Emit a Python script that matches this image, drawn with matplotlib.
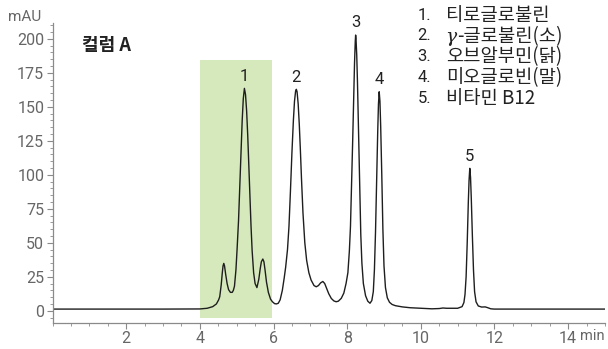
import matplotlib.pyplot as plt
from matplotlib.ticker import MultipleLocator, FixedLocator

# chromatogram trace (retention time in min, absorbance in mAU)
time_min = [
    0.0, 3.0, 4.0, 4.2, 4.35, 4.45, 4.51, 4.54, 4.58, 4.61, 4.63, 4.65,
    4.67, 4.70, 4.74, 4.78, 4.83, 4.88, 4.91, 4.94, 4.98, 5.01, 5.05, 5.09,
    5.12, 5.15, 5.18, 5.21, 5.24, 5.27, 5.30, 5.33, 5.36, 5.39, 5.42, 5.46,
    5.50, 5.55, 5.60, 5.64, 5.67, 5.71, 5.74, 5.77, 5.81, 5.86, 5.92, 5.97,
    6.03, 6.08, 6.13, 6.18, 6.24, 6.29, 6.33, 6.38, 6.42, 6.46, 6.50, 6.54,
    6.57, 6.60, 6.62, 6.64, 6.67, 6.70, 6.73, 6.76, 6.80, 6.85, 6.90, 6.96,
    7.02, 7.10, 7.16, 7.22, 7.28, 7.34, 7.39, 7.44, 7.50, 7.57, 7.64, 7.70,
    7.76, 7.84, 7.91, 7.97, 8.02, 8.06, 8.09, 8.12, 8.15, 8.18, 8.20, 8.22,
    8.23, 8.24, 8.26, 8.28, 8.31, 8.34, 8.37, 8.40, 8.44, 8.50, 8.56, 8.62,
    8.67, 8.71, 8.74, 8.77, 8.80, 8.83, 8.85, 8.87, 8.89, 8.91, 8.94, 8.97,
    9.00, 9.04, 9.09, 9.15, 9.22, 9.31, 9.50, 9.71, 10.0, 10.3, 10.5, 10.6,
    10.7, 11.0, 11.12, 11.17, 11.20, 11.23, 11.26, 11.29, 11.31, 11.33,
    11.35, 11.37, 11.40, 11.43, 11.46, 11.50, 11.56, 11.65, 11.75, 11.82,
    11.90, 12.0, 15.0,
]
absorbance = [
    1.2, 1.2, 1.3, 1.8, 3.0, 5.0, 8.0, 10.3, 19, 28, 33, 34.8,
    33, 27, 20, 15.5, 13.5, 13.5, 15, 18, 30, 44.6, 66, 95,
    118, 140, 156, 163.5, 159, 147, 129, 107, 84, 62, 44, 28,
    20, 17, 23, 31, 36, 38, 36, 30, 21, 13.5, 8.5, 6.6,
    5.2, 5.0, 5.5, 8, 15, 24, 32, 45, 62, 88, 116, 140,
    154, 161.5, 162.8, 161, 152, 137, 118, 97, 72, 50, 37, 28,
    22.6, 18.5, 17.6, 18.5, 20.5, 21.5, 20, 16.5, 12.5, 9, 7.2, 6.6,
    7, 9.1, 13, 20, 28, 44, 62, 92, 125, 160, 182, 198,
    202.7, 200, 188, 168, 130, 90, 56, 35, 20, 11, 7, 5.5,
    7.5, 14, 30, 58, 95, 132, 152, 161, 154, 136, 100, 60,
    33, 17, 9.5, 6.2, 4.6, 3.7, 2.8, 2.2, 1.8, 1.4, 1.6, 2.0,
    1.8, 1.8, 3, 6, 12, 25, 50, 80, 96, 104.7,
    98, 83, 55, 30, 14, 6.5, 3.5, 2.7, 2.8, 2.2,
    1.4, 1.2, 1.2,
]

peak_ids = ['1', '2', '3', '4', '5']
peak_times = [5.21, 6.62, 8.23, 8.87, 11.33]
peak_heights = [163.5, 162.8, 202.7, 161, 104.7]

legend_nums = ['1.', '2.', '3.', '4.', '5.']
legend_names = ['티로글로불린', '-글로불린(소)', '오브알부민(닭)', '미오글로빈(말)', '비타민 B12']

fraction_window = (4.0, 5.95)

latin = ['Roboto', 'Noto Sans CJK KR', 'DejaVu Sans']
korean = ['Noto Sans CJK KR', 'DejaVu Sans']
gray = '#666666'
ink = '#222222'

fig = plt.figure(figsize=(6.08, 3.49), dpi=100)
ax = fig.add_axes([0.0864, 0.0754, 0.9086, 0.8596])

ax.axvspan(fraction_window[0], fraction_window[1], ymin=0.017, ymax=0.876,
           color='#d6e9bd', lw=0, zorder=0)
ax.plot(time_min, absorbance, color='#1e1e1e', lw=1.0, zorder=2)

for pid, t, h in zip(peak_ids, peak_times, peak_heights):
    ax.text(t, h + 9, pid, ha='center', va='center', fontsize=12,
            family=latin, color=ink)

ax.set_xlim(0, 15)
ax.set_ylim(-8.8, 211.8)
ax.xaxis.set_major_locator(FixedLocator([2, 4, 6, 8, 10, 12, 14]))
ax.xaxis.set_minor_locator(MultipleLocator(0.5))
ax.yaxis.set_major_locator(MultipleLocator(25))
ax.yaxis.set_minor_locator(MultipleLocator(5))

for side in ['top', 'right']:
    ax.spines[side].set_visible(False)
for side in ['left', 'bottom']:
    ax.spines[side].set_color('#8a8a8a')
    ax.spines[side].set_linewidth(0.9)

ax.tick_params(which='major', length=4, width=0.8, color='#8a8a8a',
               labelsize=11.5, labelcolor=gray, pad=2)
ax.tick_params(which='minor', length=2, width=0.6, color='#8a8a8a')
for lbl in ax.get_xticklabels() + ax.get_yticklabels():
    lbl.set_family(latin)

fig.text(0.994, 0.0754 - 0.0172, 'min', ha='right', va='top', fontsize=10.5,
         family=latin, color=gray)
fig.text(0.013, 0.951, 'mAU', ha='left', va='center', fontsize=11,
         family=latin, color=gray)
fig.text(0.135, 0.871, '컬럼 A', ha='left', va='center', fontsize=13,
         family=korean, weight='bold', color=ink)

# peak legend in the top-right corner
row_y = [0.957, 0.897, 0.837, 0.778, 0.718]
for num, name, y in zip(legend_nums, legend_names, row_y):
    fig.text(0.687, y, num, ha='left', va='center', fontsize=12,
             family=latin, color=ink)
    if num == '2.':
        g = fig.text(0.733, y - 0.004, 'γ', ha='left', va='center', fontsize=13.5,
                     family='DejaVu Serif', style='italic', color=ink)
        ax.annotate(name, xy=(1, 0.5), xycoords=g, xytext=(0, 0.5),
                    textcoords='offset points', ha='left', va='center',
                    fontsize=13.5, family=korean, color=ink,
                    annotation_clip=False)
    else:
        fig.text(0.733, y, name, ha='left', va='center', fontsize=13.5,
                 family=korean, color=ink)

fig.savefig('out.png', dpi=100)
